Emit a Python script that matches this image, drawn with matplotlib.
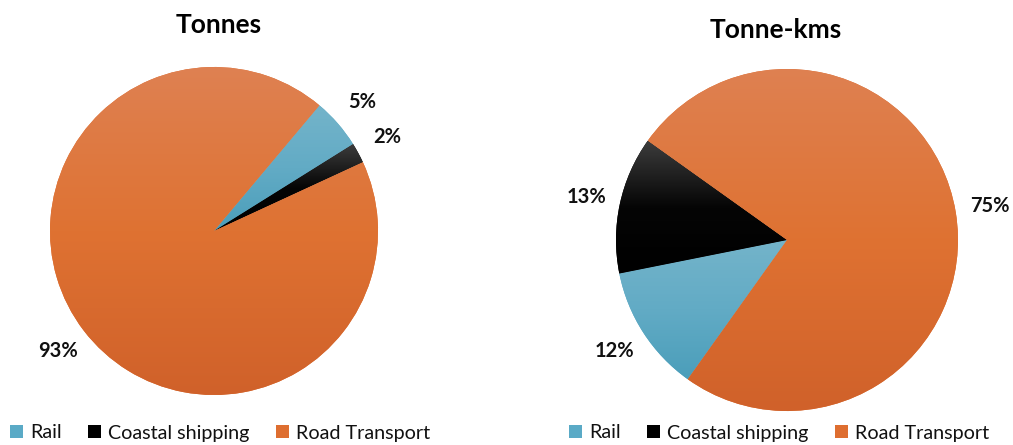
import matplotlib.pyplot as plt
import numpy as np
from matplotlib.colors import LinearSegmentedColormap
from matplotlib.patches import Patch

plt.rcParams['font.family'] = ['Lato', 'DejaVu Sans']

# Modal share of freight
modes = ['Rail', 'Coastal shipping', 'Road Transport']
tonnes = [5, 2, 93]
tonne_kms = [12, 13, 75]

# top / middle / bottom shades for each mode
shades = {
    'Rail': ['#74b4ca', '#62abc5', '#4b9eba'],
    'Coastal shipping': ['#3c3c3c', '#050505', '#000000'],
    'Road Transport': ['#de8152', '#df7232', '#d0612a'],
}
legend_colors = ['#5aaac6', '#000000', '#de6e30']

W, H = 1013, 445
fig = plt.figure(figsize=(W / 100, H / 100), dpi=100)

LIM = 1.3


def add_pie_axes(cx, cy, r):
    # place an axes so that a unit circle lands at (cx, cy) px with radius r
    size = 2 * LIM * r
    ax = fig.add_axes([(cx - size / 2) / W, (H - cy - size / 2) / H, size / W, size / H])
    ax.set_xlim(-LIM, LIM)
    ax.set_ylim(-LIM, LIM)
    ax.set_aspect('equal')
    ax.axis('off')
    return ax


def gradient_fill(ax, wedge, name):
    # vertical gradient over the wedge's own bounding box, clipped to the wedge
    verts = wedge.get_path().vertices
    verts = wedge.get_patch_transform().transform(verts)
    x0, y0 = verts.min(axis=0)
    x1, y1 = verts.max(axis=0)
    cmap = LinearSegmentedColormap.from_list(name, shades[name][::-1])
    grad = np.linspace(0, 1, 256).reshape(-1, 1)
    im = ax.imshow(grad, cmap=cmap, origin='lower', aspect='auto',
                   extent=[x0, x1, y0, y1], interpolation='bilinear', zorder=2)
    im.set_clip_path(wedge)


def draw_pie(ax, values, start):
    wedges, _, pcts = ax.pie(values, startangle=start, counterclock=False,
                             colors=legend_colors, radius=1.0,
                             autopct='%.0f%%', pctdistance=1.2,
                             textprops=dict(fontsize=14.5, fontweight='bold',
                                            color='#111111'))
    for w, name in zip(wedges, modes):
        gradient_fill(ax, w, name)
    for t in pcts:
        t.set_clip_on(False)
    ax.set_xlim(-LIM, LIM)
    ax.set_ylim(-LIM, LIM)


ax1 = add_pie_axes(214, 231, 164)
draw_pie(ax1, tonnes, 50)
ax2 = add_pie_axes(787, 240, 171)
draw_pie(ax2, tonne_kms, 234.5)

fig.text(219 / W, 1 - 25 / H, 'Tonnes', ha='center', va='center',
         fontsize=19, fontweight='bold')
fig.text(776 / W, 1 - 30 / H, 'Tonne-kms', ha='center', va='center',
         fontsize=19, fontweight='bold')

handles = [Patch(facecolor=c, edgecolor='none') for c in legend_colors]
for x in (220, 779):
    fig.legend(handles, modes, loc='center', bbox_to_anchor=(x / W, 1 - 433 / H),
               ncol=3, frameon=False, fontsize=14.2, handlelength=0.65,
               handleheight=0.65, handletextpad=0.35, columnspacing=1.35,
               borderaxespad=0, labelcolor='#111111')

fig.savefig('out.png', dpi=100)
